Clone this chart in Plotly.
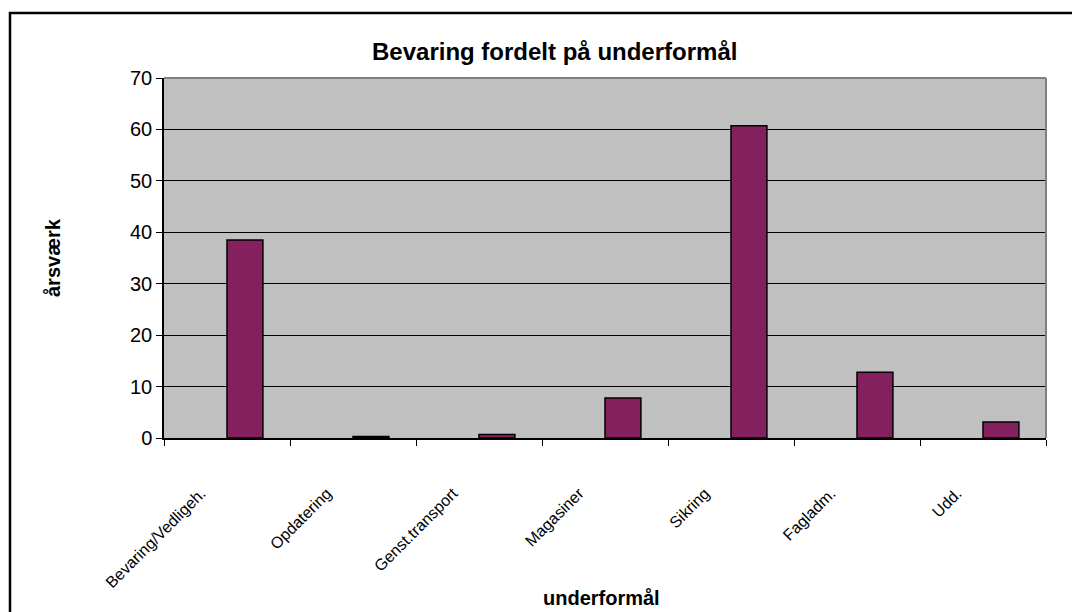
import plotly.graph_objects as go

# data
categories = ["Bevaring/Vedligeh.", "Opdatering", "Genst.transport", "Magasiner",
              "Sikring", "Fagladm.", "Udd."]
aarsvaerk = [38.5, 0.3, 0.7, 7.8, 60.7, 12.8, 3.1]
y_ticks = [0, 10, 20, 30, 40, 50, 60, 70]

fig = go.Figure()

# single series drawn right of the category centre (Excel two-series layout)
fig.add_trace(
    go.Bar(
        x=categories,
        y=aarsvaerk,
        width=0.285,
        offset=0,
        marker=dict(color="#85205F", line=dict(color="black", width=1.5)),
        showlegend=False,
    )
)

# page body adds an 8px margin, so the figure is drawn 8px smaller
fig.update_layout(
    width=1072,
    height=604,
    margin=dict(l=156, r=34, t=70, b=174),
    paper_bgcolor="white",
    plot_bgcolor="#C0C0C0",
    font=dict(family="Arial, Liberation Sans, sans-serif", color="black", size=15),
    showlegend=False,
)

fig.update_xaxes(
    type="category",
    tickangle=-45,
    tickson="boundaries",
    ticks="outside",
    ticklen=6,
    tickcolor="black",
    tickfont=dict(size=16),
    ticklabelstandoff=38,
    ticklabelshift=-26,
    showline=True,
    linecolor="black",
    linewidth=1.5,
    showgrid=False,
)
fig.update_yaxes(
    range=[0, 70],
    tickvals=y_ticks,
    ticks="outside",
    ticklen=6,
    tickcolor="black",
    tickfont=dict(size=20),
    showline=True,
    linecolor="black",
    linewidth=1.5,
    showgrid=True,
    gridcolor="black",
    gridwidth=1,
    zeroline=False,
)

# grey frame on top / right of the plot area
fig.add_shape(type="line", xref="paper", yref="paper", x0=0, x1=1, y0=1, y1=1,
              line=dict(color="#808080", width=2))
fig.add_shape(type="line", xref="paper", yref="paper", x0=1, x1=1, y0=0, y1=1,
              line=dict(color="#808080", width=2))

# outer chart frame
fig.add_shape(type="rect", xref="paper", yref="paper",
              x0=-154 / 882, x1=1.1, y0=-1.0, y1=(438 - 13) / 360,
              line=dict(color="black", width=2.5), fillcolor="rgba(0,0,0,0)",
              layer="below")

fig.add_annotation(text="<b>Bevaring fordelt på underformål</b>", xref="paper", yref="paper",
                   x=(554 - 164) / 882, y=(438 - 51) / 360, showarrow=False,
                   font=dict(size=24), xanchor="center", yanchor="middle")
fig.add_annotation(text="<b>årsværk</b>", xref="paper", yref="paper",
                   x=(53 - 164) / 882, y=(438 - 258) / 360, showarrow=False, textangle=-90,
                   font=dict(size=20), xanchor="center", yanchor="middle")
fig.add_annotation(text="<b>underformål</b>", xref="paper", yref="paper",
                   x=(601 - 164) / 882, y=(438 - 598) / 360, showarrow=False,
                   font=dict(size=20), xanchor="center", yanchor="middle")

fig.write_html("out.html")
